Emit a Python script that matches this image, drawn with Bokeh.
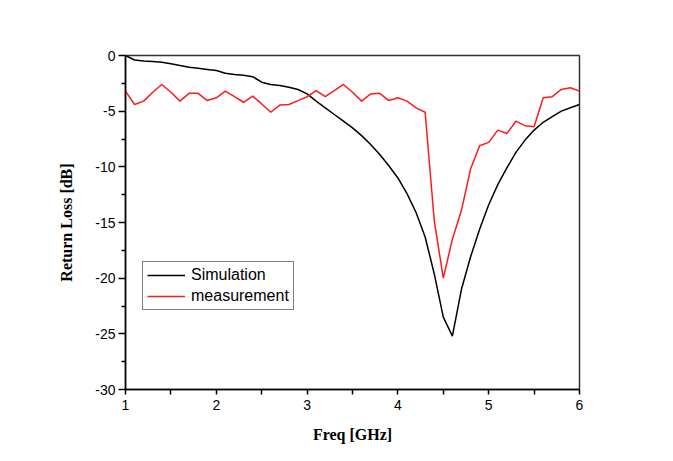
from bokeh.plotting import figure
from bokeh.models import Legend, LegendItem, FixedTicker, ColumnDataSource, CustomJSTickFormatter
from bokeh.embed import file_html
from bokeh.resources import INLINE

freq = [round(1.0 + 0.1 * i, 1) for i in range(51)]

simulation = [0, -0.4, -0.5, -0.55, -0.6, -0.75, -0.9, -1.05, -1.15, -1.25,
              -1.35, -1.6, -1.7, -1.78, -1.9, -2.4, -2.6, -2.7, -2.85, -3.05,
              -3.45, -4.1, -4.7, -5.3, -5.9, -6.5, -7.2, -8.0, -8.9, -9.9,
              -11.0, -12.4, -14.1, -16.3, -19.6, -23.5, -25.2, -21.0, -18.1, -15.6,
              -13.4, -11.6, -10.1, -8.7, -7.6, -6.7, -6.0, -5.5, -5.0, -4.7,
              -4.4]

measurement = [-3.2, -4.4, -4.1, -3.3, -2.6, -3.3, -4.1, -3.4, -3.4, -4.05,
               -3.8, -3.2, -3.7, -4.2, -3.65, -4.35, -5.1, -4.45, -4.4, -4.05,
               -3.7, -3.15, -3.7, -3.15, -2.6, -3.3, -4.1, -3.45, -3.4, -4.05,
               -3.8, -4.1, -4.7, -5.1, -14.8, -20.0, -16.5, -13.9, -10.2, -8.1,
               -7.8, -6.7, -7.0, -5.9, -6.3, -6.4, -3.8, -3.7, -3.05, -2.9,
               -3.2]

x_ticks = [1, 2, 3, 4, 5, 6]
y_ticks = [0, -5, -10, -15, -20, -25, -30]

src = ColumnDataSource(dict(f=freq, s=simulation, m=measurement))

p = figure(width=657, height=445, output_backend="svg", toolbar_location=None,
           x_range=(1, 6), y_range=(-30, 0),
           min_border_left=125, min_border_right=78,
           min_border_top=55, min_border_bottom=56)
p.background_fill_color = "white"
p.border_fill_color = "white"
p.grid.visible = False
p.outline_line_color = "#333333"
p.outline_line_width = 1.5

r1 = p.line("f", "s", source=src, line_color="black", line_width=1.5)
r2 = p.line("f", "m", source=src, line_color="#ff1a1a", line_width=1.5)

p.xaxis.ticker = FixedTicker(ticks=x_ticks, minor_ticks=[1.5, 2.5, 3.5, 4.5, 5.5])
p.yaxis.ticker = FixedTicker(ticks=y_ticks,
                             minor_ticks=[-2.5, -7.5, -12.5, -17.5, -22.5, -27.5])
fmt = CustomJSTickFormatter(code="return String(tick);")
p.xaxis.formatter = fmt
p.yaxis.formatter = fmt

for ax in (p.xaxis[0], p.yaxis[0]):
    ax.axis_line_color = "black"
    ax.axis_line_width = 1.5
    ax.major_tick_line_color = "black"
    ax.minor_tick_line_color = "black"
    ax.major_tick_line_width = 1.5
    ax.minor_tick_line_width = 1.5
    ax.major_tick_in = 0
    ax.minor_tick_in = 0
    ax.major_label_text_font = "Liberation Sans"
    ax.major_label_text_font_size = "14px"
    ax.major_label_text_color = "black"
    ax.axis_label_text_font = "Liberation Serif"
    ax.axis_label_text_font_style = "bold"
    ax.axis_label_text_font_size = "16px"
    ax.axis_label_text_color = "black"

p.yaxis.major_tick_out = 7
p.yaxis.minor_tick_out = 4
p.yaxis.major_label_standoff = 3
p.yaxis.axis_label = "Return Loss [dB]"
p.yaxis.axis_label_standoff = 17

p.xaxis.major_tick_out = 5
p.xaxis.minor_tick_out = 5
p.xaxis.major_label_standoff = 5
p.xaxis.axis_label = "Freq [GHz]"
p.xaxis.axis_label_standoff = 13

legend = Legend(items=[LegendItem(label="Simulation", renderers=[r1]),
                       LegendItem(label="measurement", renderers=[r2])],
                location=(17, 79))
legend.border_line_color = "black"
legend.border_line_width = 1
legend.background_fill_color = "white"
legend.background_fill_alpha = 1
legend.label_text_font = "Liberation Sans"
legend.label_text_font_size = "16px"
legend.label_text_color = "black"
legend.glyph_width = 38
legend.glyph_height = 16
legend.label_height = 16
legend.label_standoff = 6
legend.padding = 4
legend.spacing = 3
legend.margin = 0
p.add_layout(legend)

open("out.html", "w").write(file_html(p, INLINE))
